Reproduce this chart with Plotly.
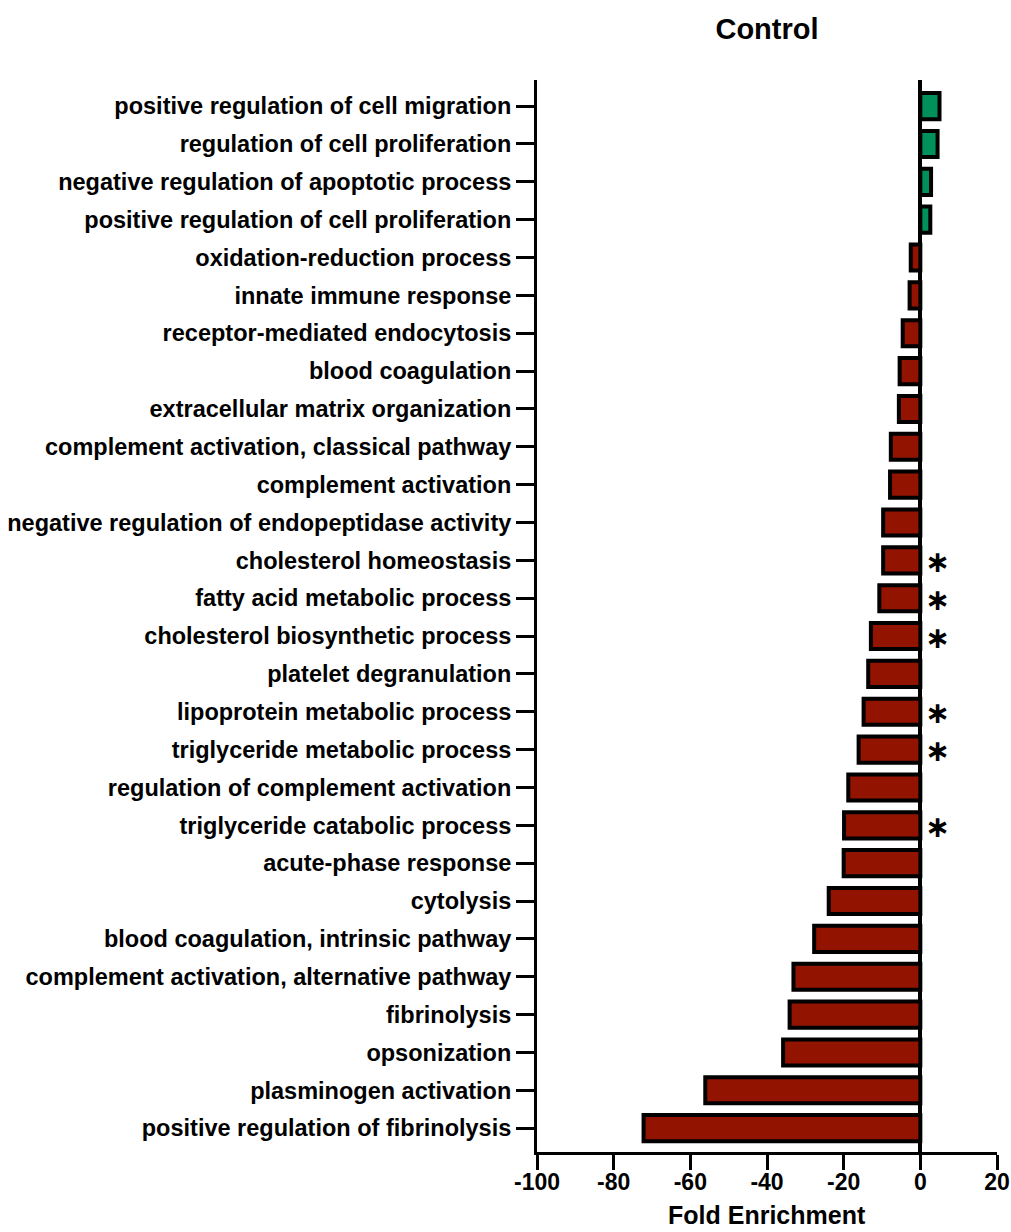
import plotly.graph_objects as go

# GO terms, listed top to bottom
terms = [
    "positive regulation of cell migration",
    "regulation of cell proliferation",
    "negative regulation of apoptotic process",
    "positive regulation of cell proliferation",
    "oxidation-reduction process",
    "innate immune response",
    "receptor-mediated endocytosis",
    "blood coagulation",
    "extracellular matrix organization",
    "complement activation, classical pathway",
    "complement activation",
    "negative regulation of endopeptidase activity",
    "cholesterol homeostasis",
    "fatty acid metabolic process",
    "cholesterol biosynthetic process",
    "platelet degranulation",
    "lipoprotein metabolic process",
    "triglyceride metabolic process",
    "regulation of complement activation",
    "triglyceride catabolic process",
    "acute-phase response",
    "cytolysis",
    "blood coagulation, intrinsic pathway",
    "complement activation, alternative pathway",
    "fibrinolysis",
    "opsonization",
    "plasminogen activation",
    "positive regulation of fibrinolysis",
]

fold_enrichment = [
    5.0, 4.5, 2.8, 2.6, -2.5, -2.8, -4.6, -5.4, -5.6, -7.7,
    -7.9, -9.7, -9.7, -10.7, -12.9, -13.6, -14.8, -16.1, -18.8, -19.9,
    -20.0, -23.9, -27.7, -33.1, -34.1, -35.8, -56.1, -72.2,
]

# terms flagged as significant
starred = [
    "cholesterol homeostasis",
    "fatty acid metabolic process",
    "cholesterol biosynthetic process",
    "lipoprotein metabolic process",
    "triglyceride metabolic process",
    "triglyceride catabolic process",
]

x_ticks = [-100, -80, -60, -40, -20, 0, 20]

UP = "#00915A"
DOWN = "#921300"
FONT = "Arial, Liberation Sans, sans-serif"

# plotly stacks categories bottom-up, so reverse
cats = terms[::-1]
vals = fold_enrichment[::-1]
colors = [UP if v > 0 else DOWN for v in vals]

fig = go.Figure(
    go.Bar(
        x=vals,
        y=cats,
        orientation="h",
        width=0.69,
        marker=dict(color=colors, line=dict(color="black", width=4)),
        hoverinfo="x+y",
    )
)

for t in starred:
    fig.add_annotation(
        x=0, y=t, xref="x", yref="y",
        text="\u2217", showarrow=False,
        xanchor="center", yanchor="middle",
        xshift=17, yshift=-1,
        font=dict(family="DejaVu Sans", size=30, color="black"),
    )

# x-axis title placed below the tick labels, kept inside the page
fig.add_annotation(
    x=0.5, y=-0.0735, xref="paper", yref="paper",
    text="Fold Enrichment", showarrow=False,
    xanchor="center", yanchor="bottom",
    font=dict(family=FONT, size=25, color="black", weight="bold"),
)

fig.update_layout(
    width=1011,
    height=1232,
    margin=dict(l=537, r=14, t=80, b=80),
    plot_bgcolor="white",
    paper_bgcolor="white",
    showlegend=False,
    font=dict(family=FONT, color="black", weight="bold"),
    title=dict(
        text="Control",
        x=0.5, xref="paper", xanchor="center",
        y=1 - 29 / 1232, yref="container", yanchor="middle",
        font=dict(family=FONT, size=29, color="black", weight="bold"),
    ),
    xaxis=dict(
        range=[-100, 20],
        tickvals=x_ticks,
        ticktext=[str(v) for v in x_ticks],
        automargin=False,
        showgrid=False,
        zeroline=True,
        zerolinecolor="black",
        zerolinewidth=4,
        showline=True,
        linecolor="black",
        linewidth=3,
        ticks="outside",
        ticklen=15,
        tickwidth=3,
        tickcolor="black",
        ticklabelstandoff=-8,
        tickfont=dict(family=FONT, size=23, color="black", weight="bold"),
    ),
    yaxis=dict(
        type="category",
        categoryorder="array",
        categoryarray=cats,
        range=[-0.63, 27.69],
        automargin=False,
        showgrid=False,
        zeroline=False,
        showline=True,
        linecolor="black",
        linewidth=3,
        ticks="outside",
        ticklen=18,
        tickwidth=3,
        tickcolor="black",
        tickfont=dict(family=FONT, size=23.5, color="black", weight="bold"),
    ),
)

fig.write_html("out.html")
